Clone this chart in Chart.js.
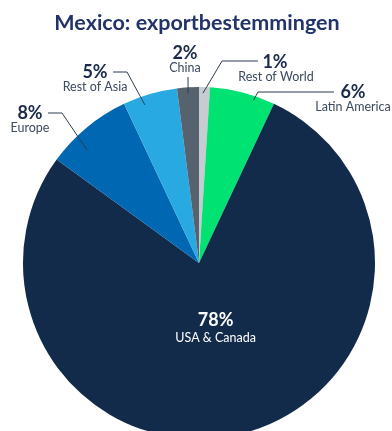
<!DOCTYPE html>
<html>
<head>
<meta charset="utf-8">
<title>Mexico: exportbestemmingen</title>
<script src="https://cdn.jsdelivr.net/npm/chart.js@4/dist/chart.umd.min.js"></script>
<style>
	html, body { margin: 0; padding: 0; background: #fff; }
	#wrap { width: 392px; height: 431px; overflow: hidden; position: relative; }
	canvas { display: block; }
</style>
</head>
<body>
<div id="wrap"><canvas id="pieChart" width="392" height="460"></canvas></div>
<script>
var titleText = "Mexico: exportbestemmingen";
var regions = ["Rest of World", "Latin America", "USA & Canada", "Europe", "Rest of Asia", "China"];
var shares = [1, 6, 78, 8, 5, 2];
var colors = ["#c6ccd1", "#00e272", "#132b4b", "#0068b3", "#29a9e1", "#56636f"];

// label placement: [text x, pct y, elbow x, elbow y, line end x, spot in slice (0..1), radius fraction]
// null = label inside the slice
var callouts = [
	[275, 62, 222, 61, 258, 0.37, 0.965],
	[353, 92, 258, 92, 334, 0.69, 0.975],
	null,
	[30, 113, 62, 113, 48, 0.32, 0.9],
	[95, 72, 127, 72, 113, 0.35, 0.95],
	[185, 53, 188, 77, 188, 0.49, 0.965]
];

var labelPlugin = {
	id: "labels",
	afterDraw: function (chart) {
		var ctx = chart.ctx;
		var arcs = chart.getDatasetMeta(0).data;
		ctx.save();
		ctx.textAlign = "center";
		ctx.textBaseline = "middle";

		ctx.fillStyle = "#22336a";
		ctx.font = "bold 21.5px Lato";
		ctx.fillText(titleText, 197, 23);

		arcs.forEach(function (arc, i) {
			var p = arc.getProps(["x", "y", "startAngle", "endAngle", "outerRadius"], true);
			var pct = shares[i] + "%";
			var c = callouts[i];
			if (!c) {
				var mid = (p.startAngle + p.endAngle) / 2;
				var r = p.outerRadius * 0.38;
				var cx = p.x + Math.cos(mid) * r;
				var cy = p.y + Math.sin(mid) * r;
				ctx.fillStyle = "#ffffff";
				ctx.font = "bold 18px Lato";
				ctx.fillText(pct, cx, cy - 8);
				ctx.font = "12.5px Lato";
				ctx.fillText(regions[i], cx, cy + 10);
				return;
			}
			var a = p.startAngle + (p.endAngle - p.startAngle) * c[5];
			var ax = p.x + Math.cos(a) * p.outerRadius * c[6];
			var ay = p.y + Math.sin(a) * p.outerRadius * c[6];
			ctx.strokeStyle = "#2e3d52";
			ctx.lineWidth = 1;
			ctx.beginPath();
			ctx.moveTo(ax, ay);
			ctx.lineTo(c[2], c[3]);
			ctx.lineTo(c[4], c[3]);
			ctx.stroke();

			ctx.fillStyle = "#1b2a4a";
			ctx.font = "bold 18px Lato";
			ctx.fillText(pct, c[0], c[1]);
			ctx.fillStyle = "#3b4a5e";
			ctx.font = "12.5px Lato";
			ctx.fillText(regions[i], c[0] + (i === 0 ? 1 : 0), c[1] + 15);
		});
		ctx.restore();
	}
};

new Chart(document.getElementById("pieChart"), {
	type: "pie",
	data: {
		labels: regions,
		datasets: [{
			data: shares,
			backgroundColor: colors,
			borderWidth: 0
		}]
	},
	options: {
		responsive: false,
		animation: false,
		layout: { padding: { left: 23, right: 17, top: 87, bottom: 21 } },
		plugins: {
			legend: { display: false },
			tooltip: { enabled: false }
		}
	},
	plugins: [labelPlugin]
});
</script>
</body>
</html>
